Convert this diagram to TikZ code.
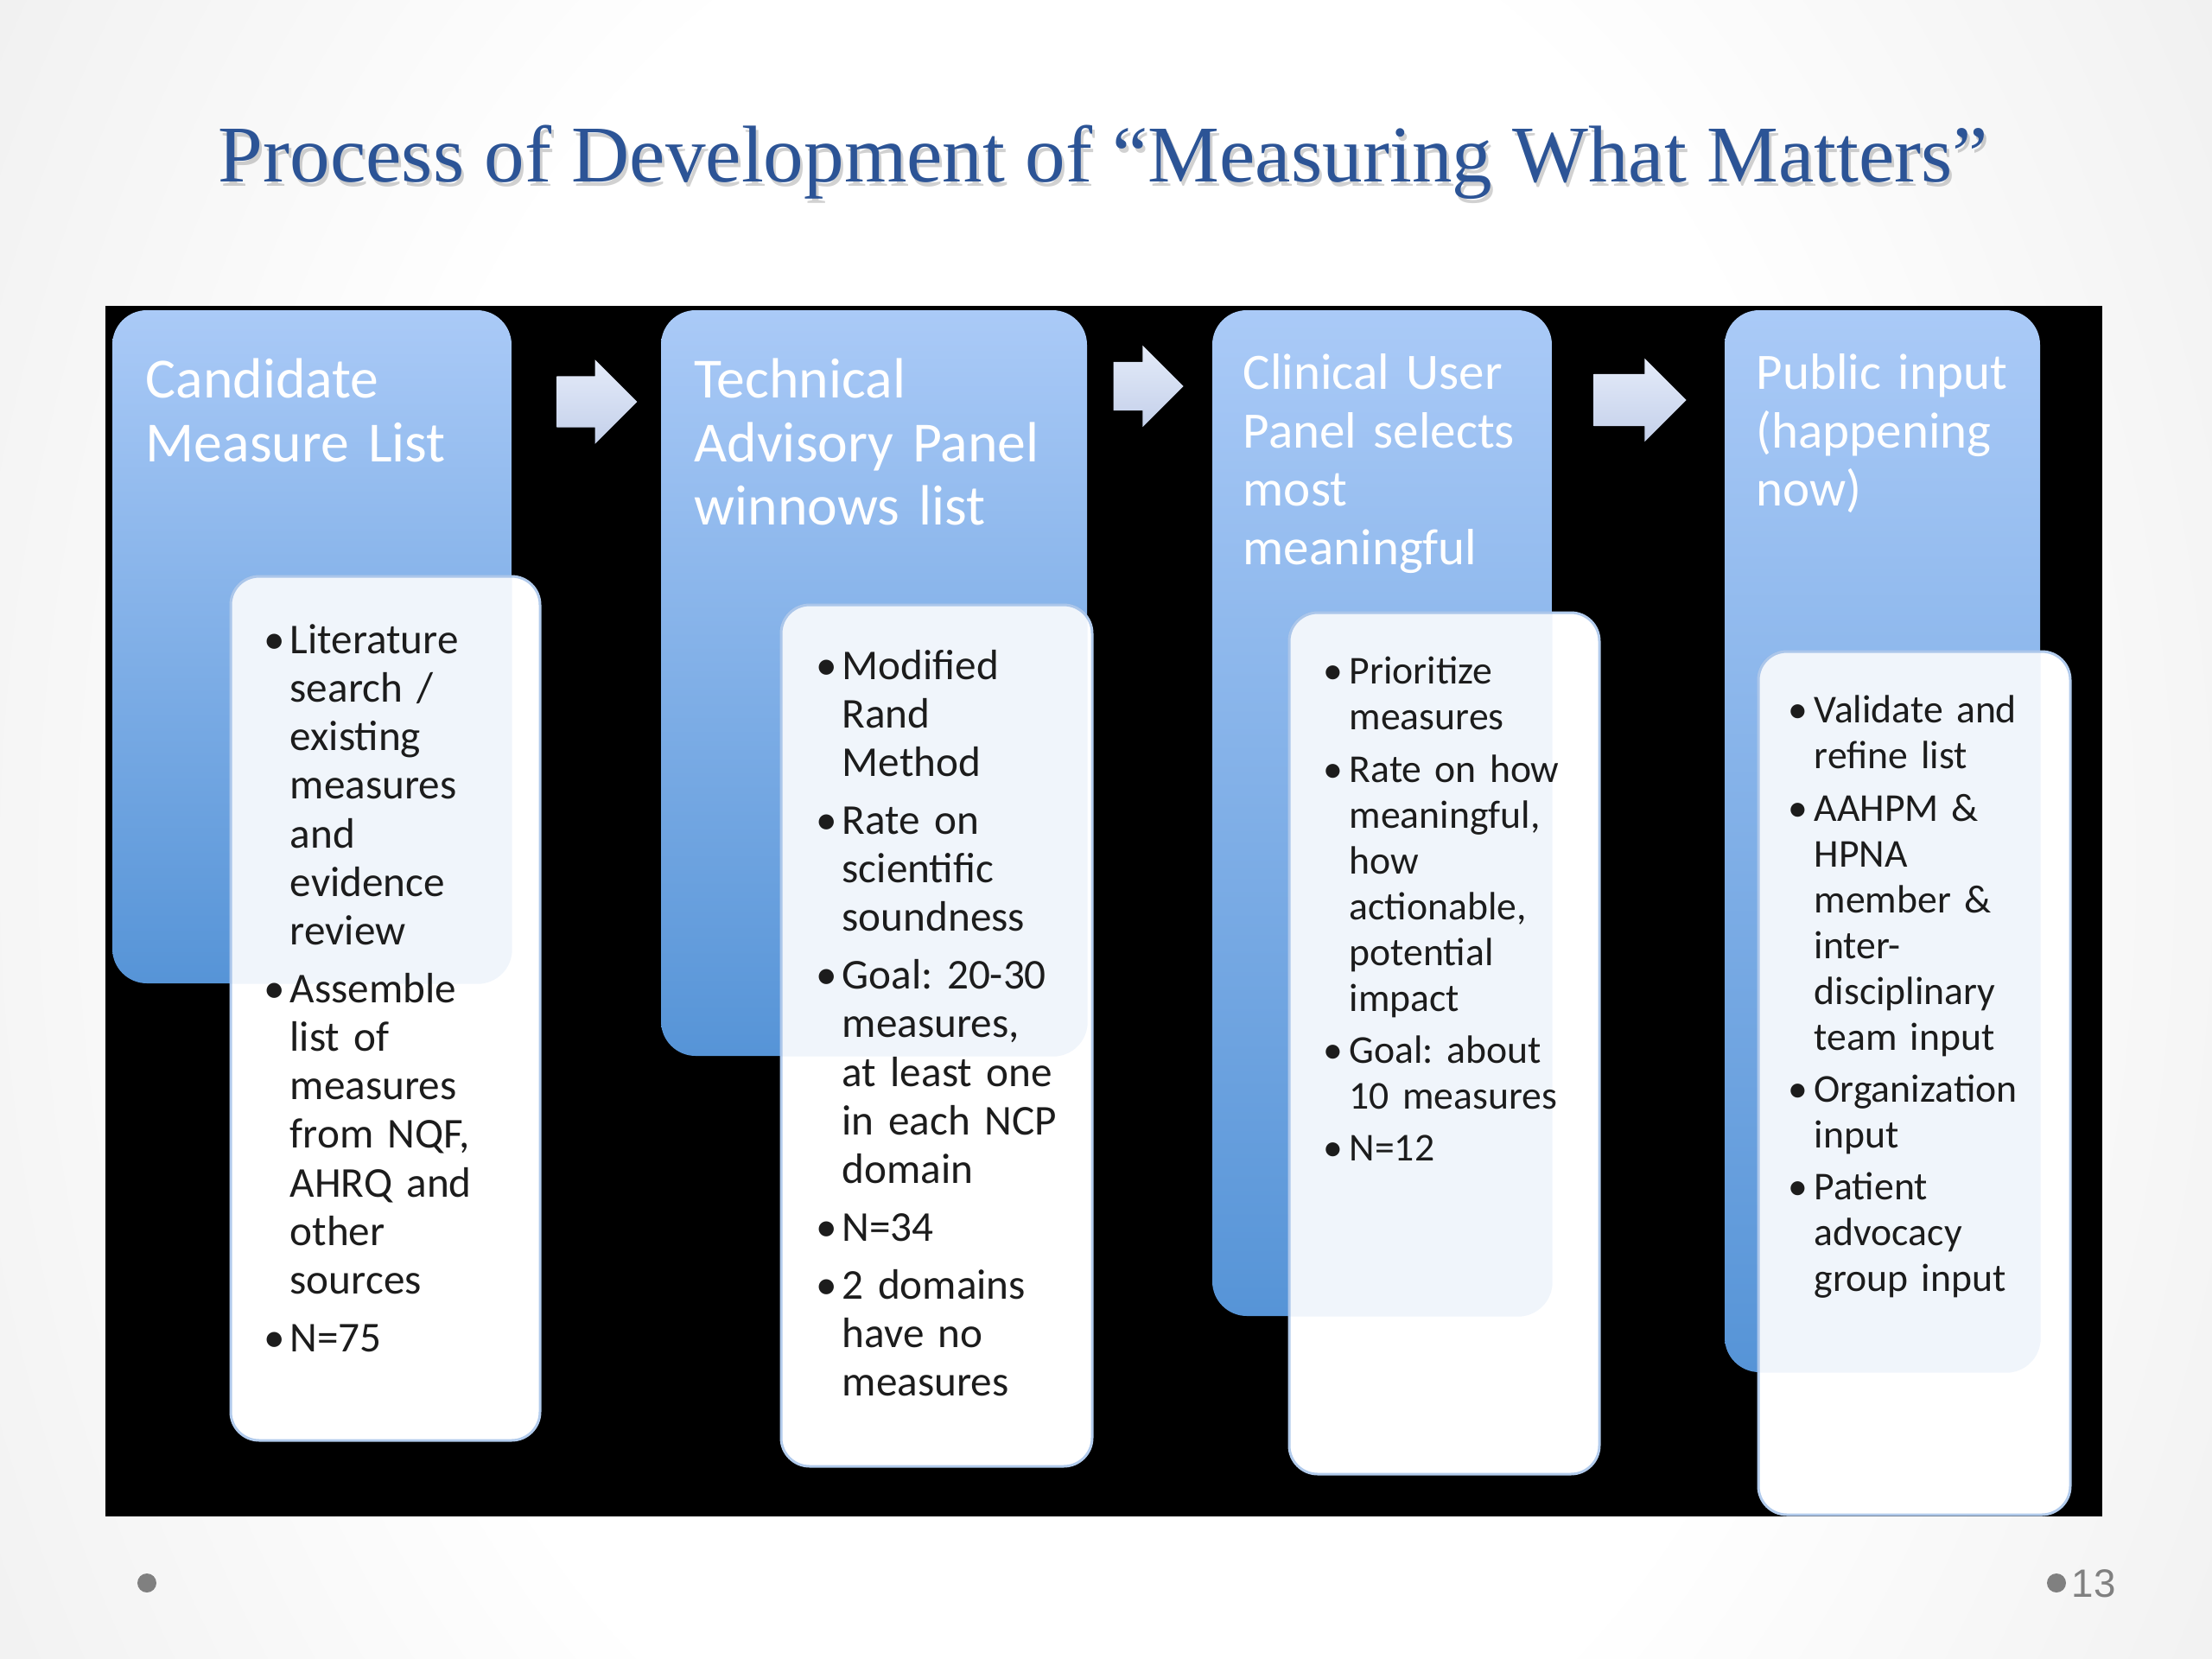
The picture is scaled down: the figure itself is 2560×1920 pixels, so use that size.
\documentclass[tikz,border=0pt]{standalone}
\usepackage{fontspec}
\setmainfont{Carlito}
\newfontfamily\titlefont{Liberation Serif}
\newfontfamily\pagefont{Liberation Sans}
\usetikzlibrary{fit,shapes.arrows}

\definecolor{titleblue}{RGB}{44,84,150}
\definecolor{boxtop}{RGB}{170,202,247}
\definecolor{boxbot}{RGB}{86,148,215}
\definecolor{listedge}{RGB}{178,203,236}
\definecolor{listtint}{RGB}{110,160,225}
\definecolor{arrowtop}{RGB}{228,235,249}
\definecolor{arrowbot}{RGB}{196,208,234}
\definecolor{bullettext}{RGB}{28,28,28}
\definecolor{footgray}{RGB}{128,128,128}
\definecolor{slideedge}{RGB}{210,210,210}

\pgfdeclareradialshading{slidebg}{\pgfpoint{0bp}{0bp}}{color(0bp)=(white); color(15bp)=(white); color(50bp)=(slideedge)}

\frenchspacing
\newlength{\bulletindent}
\setlength{\bulletindent}{3mm}
\newcommand{\bitem}[1]{\hangindent=\bulletindent\hangafter=1\noindent\makebox[\bulletindent][l]{\textbullet}#1\par}

\tikzset{
  stagebox/.style={inner sep=0pt, rounded corners=4mm, top color=boxtop, bottom color=boxbot},
  listbox/.style={inner sep=0pt, rounded corners=3.3mm, fill=white, draw=listedge, line width=0.3mm},
  stagehead/.style={anchor=north west, inner sep=0pt, text width=45mm, align=left, text=white,
    font=\fontsize{18.7pt}{21pt}\selectfont},
  stagehead small/.style={stagehead, font=\fontsize{16.8pt}{19.3pt}\selectfont},
  listtext/.style={anchor=north west, inner sep=0pt, text width=45mm, align=left, text=bullettext,
    font=\fontsize{14pt}{16pt}\selectfont},
  listtext small/.style={listtext, font=\fontsize{13pt}{15.1pt}\selectfont},
  flowarrow/.style={single arrow, inner xsep=0pt, single arrow head extend=1.9mm,
    top color=arrowtop, bottom color=arrowbot},
  titletext/.style={anchor=base, inner sep=0pt, font=\titlefont\fontsize{26.5pt}{30pt}\selectfont},
  footdot/.style={circle, fill=footgray, minimum size=2.2mm, inner sep=0pt},
}

\begin{document}
\begin{tikzpicture}[x=0.1mm,y=-0.1mm]
\useasboundingbox (0,0) rectangle (2560,1920);
% slide background
\begin{scope}
\clip (0,0) rectangle (2560,1920);
\shade[shading=slidebg] (-150,-900) rectangle (2710,2900);
\end{scope}

\node[titletext, text=black, opacity=0.18] (title-shadow) at (1280,215) {Process of Development of “Measuring What Matters”};
\node[titletext, text=titleblue] (title) at (1277,210) {Process of Development of “Measuring What Matters”};

\node[fit={(122,354) (2433,1755)}, inner sep=0pt, fill=black] (panel) {};

% stages
\node[stagebox, fit={(130,359) (592,1138)}] (cand) {};
\node[stagebox, fit={(765,359) (1258,1222)}] (tap) {};
\node[stagebox, fit={(1403,359) (1796,1523)}] (cup) {};
\node[stagebox, fit={(1996,359) (2361,1588)}] (pub) {};

\node[listbox, fit={(267,667) (625,1667)}] (cand-list) {};
\node[listbox, fit={(904,700) (1264,1697)}] (tap-list) {};
\node[listbox, fit={(1492,709) (1851,1706)}] (cup-list) {};
\node[listbox, fit={(2035,754) (2396,1753)}] (pub-list) {};

% blue shows faintly through the lists
\foreach \s in {cand,tap,cup,pub} {
  \begin{scope}
  \clip[rounded corners=3.3mm] (\s-list.north west) rectangle (\s-list.south east);
  \fill[listtint, opacity=0.1, rounded corners=4mm] (\s.north west) rectangle (\s.south east);
  \end{scope}
}

\node[flowarrow, minimum height=9.3mm, inner ysep=2.9mm] (arr1) at (676,465) {};
\node[flowarrow, minimum height=8.1mm, inner ysep=2.75mm] (arr2) at (1315,447) {};
\node[flowarrow, minimum height=10.7mm, inner ysep=2.95mm, single arrow head extend=1.8mm] (arr3) at (1883,463) {};

\node[stagehead] (cand-head) at (168,408) {\strut Candidate\\Measure List};
\node[stagehead] (tap-head) at (803,408) {\strut Technical\\Advisory Panel\\winnows list};
\node[stagehead small] (cup-head) at (1438,402) {\strut Clinical User\\Panel selects\\most\\meaningful};
\node[stagehead small] (pub-head) at (2032,402) {\strut Public input\\(happening\\now)};

\node[listtext] (cand-text) at (305,716) {\setlength{\parskip}{3pt}%
  \bitem{\strut Literature\newline search /\newline existing\newline measures\newline and\newline evidence\newline review}%
  \bitem{Assemble\newline list of\newline measures\newline from NQF,\newline AHRQ and\newline other\newline sources}%
  \bitem{N=75}};
\node[listtext] (tap-text) at (944,746) {\setlength{\parskip}{3pt}%
  \bitem{\strut Modified\newline Rand\newline Method}%
  \bitem{Rate on\newline scientific\newline soundness}%
  \bitem{Goal: 20-30\newline measures,\newline at least one\newline in each NCP\newline domain}%
  \bitem{N=34}%
  \bitem{2 domains\newline have no\newline measures}};
\node[listtext small] (cup-text) at (1531,754) {\setlength{\parskip}{2pt}%
  \bitem{\strut Prioritize\newline measures}%
  \bitem{Rate on how\newline meaningful,\newline how\newline actionable,\newline potential\newline impact}%
  \bitem{Goal: about\newline 10 measures}%
  \bitem{N=12}};
\node[listtext small] (pub-text) at (2069,799) {\setlength{\parskip}{2pt}%
  \bitem{\strut Validate and\newline refine list}%
  \bitem{AAHPM \&\newline HPNA\newline member \&\newline inter-\newline disciplinary\newline team input}%
  \bitem{Organization\newline input}%
  \bitem{Patient\newline advocacy\newline group input}};

% footer
\node[footdot] (dot-left) at (170,1832) {};
\node[footdot] (dot-right) at (2380,1832) {};
\node[anchor=base west, inner sep=0pt, text=footgray, font=\pagefont\fontsize{13pt}{15pt}\selectfont]
  (pagenum) at (2397,1848) {13};
\end{tikzpicture}
\end{document}
